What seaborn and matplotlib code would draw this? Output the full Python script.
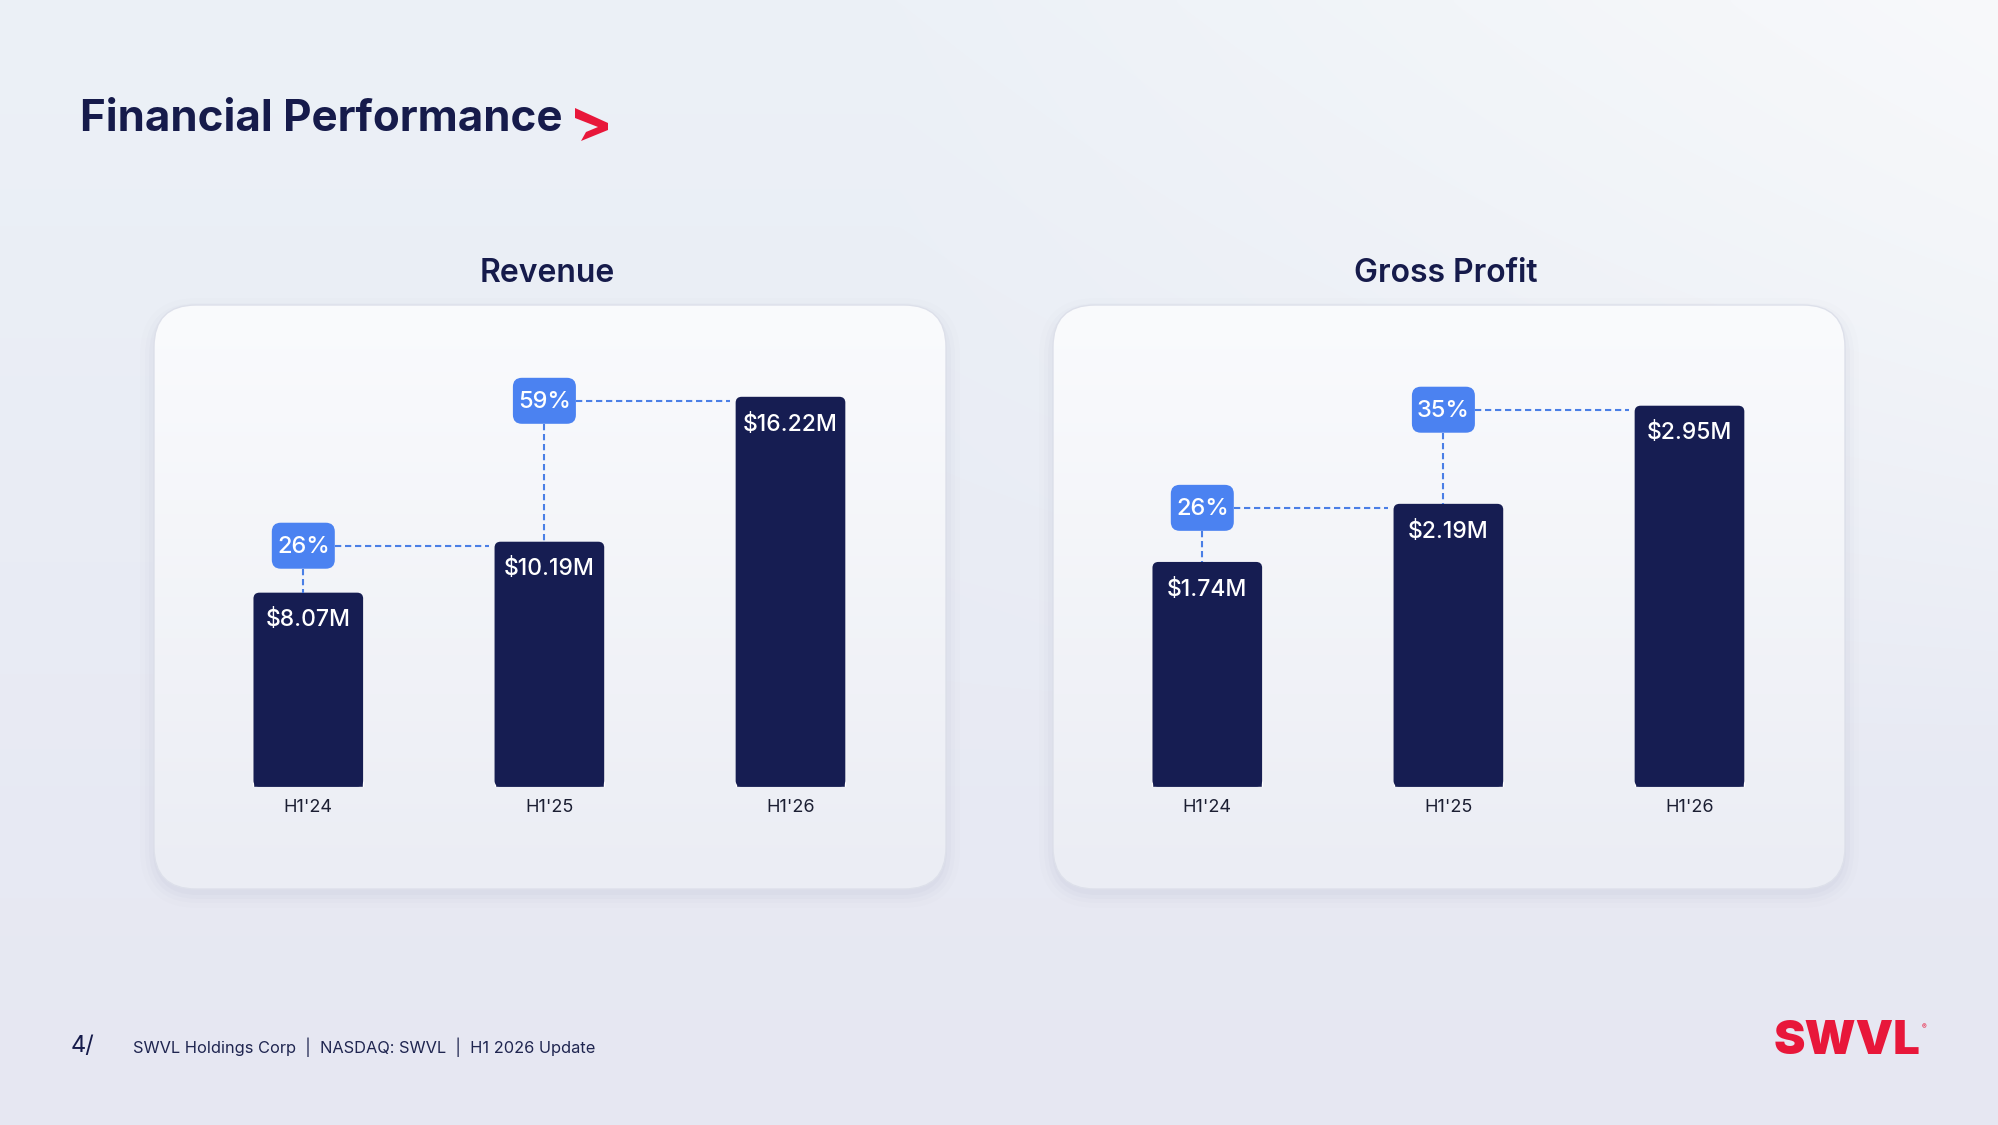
import numpy as np
import matplotlib
matplotlib.use("Agg")
import matplotlib.pyplot as plt
import seaborn as sns
from matplotlib.patches import FancyBboxPatch, Polygon

# ---------------- data ----------------
periods = ["H1'24", "H1'25", "H1'26"]
revenue = [8.07, 10.19, 16.22]
gross_profit = [1.74, 2.19, 2.95]
revenue_labels = ["$8.07M", "$10.19M", "$16.22M"]
gross_profit_labels = ["$1.74M", "$2.19M", "$2.95M"]
revenue_growth = ["26%", "59%"]
gross_profit_growth = ["26%", "35%"]
panel_titles = ["Revenue", "Gross Profit"]
title = "Financial Performance"
footer_page = "4/"
footer_text = "SWVL Holdings Corp  |  NASDAQ: SWVL  |  H1 2026 Update"

# ---------------- style ----------------
sns.set_theme(style="white")
plt.rcParams['font.family'] = ['Inter', 'DejaVu Sans']

NAVY = '#161D52'
TITLE_C = '#161B4B'
BLUE = '#4B82F1'
DASH = '#4A7FE6'
RED = '#E8173A'
TICK_C = '#1C1F33'

W, H = 1999, 1125
fig = plt.figure(figsize=(W / 100, H / 100), dpi=100)

# background (pixel coordinates, y down)
bg = fig.add_axes([0, 0, 1, 1], zorder=0)
yy, xx = np.mgrid[0:1:225j, 0:1:400j]
top_c = np.array([236, 241, 247]) / 255
bot_c = np.array([230, 231, 242]) / 255
img = top_c * (1 - yy[..., None]) + bot_c * yy[..., None]
light = np.array([248, 249, 251]) / 255
wgt = np.clip((xx - 0.45) * 1.8, 0, 1) * np.clip(1 - yy * 1.5, 0, 1)
img = img * (1 - wgt[..., None]) + light * wgt[..., None]
bg.imshow(img, extent=(0, W, H, 0), aspect='auto', zorder=0, interpolation='bicubic')

cards = [(154, 305, 792, 584), (1053, 305, 792, 584)]
RAD = 42
for (x0, y0, w, h) in cards:
    # soft shadow
    for g, a in [(16, 0.016), (11, 0.022), (7, 0.03), (3, 0.04)]:
        sh = FancyBboxPatch((x0 - g + 2, y0 - g + 9), w + 2 * g - 4, h + 2 * g - 6,
                            boxstyle=f"round,pad=0,rounding_size={RAD + g}",
                            fc='#7A82A6', ec='none', alpha=a, zorder=1)
        bg.add_patch(sh)
    clip = FancyBboxPatch((x0, y0), w, h, boxstyle=f"round,pad=0,rounding_size={RAD}",
                          fc='#F4F5F9', ec='none', zorder=2)
    bg.add_patch(clip)
    gy, gx = np.mgrid[0:1:120j, 0:1:160j]
    ctop = np.array([250, 251, 253]) / 255
    cbot = np.array([235, 237, 244]) / 255
    cimg = ctop * (1 - gy[..., None]) + cbot * gy[..., None]
    im = bg.imshow(cimg, extent=(x0, x0 + w, y0 + h, y0), aspect='auto', zorder=3,
                   interpolation='bicubic')
    im.set_clip_path(clip)
    edge = FancyBboxPatch((x0, y0), w, h, boxstyle=f"round,pad=0,rounding_size={RAD}",
                          fc='none', ec='#DDE0EA', lw=1.0, zorder=4)
    bg.add_patch(edge)
bg.set_xlim(0, W)
bg.set_ylim(H, 0)
bg.axis('off')

# overlay axes in pixel coordinates
ov = fig.add_axes([0, 0, 1, 1], zorder=20)
ov.set_xlim(0, W)
ov.set_ylim(H, 0)
ov.axis('off')
ov.patch.set_alpha(0)

BASE = 786.6
BAR_W = 0.455
XLIM = (-0.64, 2.645)

panels = [
    (revenue, revenue_labels, revenue_growth, 20.04),
    (gross_profit, gross_profit_labels, gross_profit_growth, 3.73),
]


def to_px(ax, x, y):
    d = ax.transData.transform((x, y))
    return d[0], H - d[1]


for k, ((x0, y0, w, h), (vals, labels, growth, ytop)) in enumerate(zip(cards, panels)):
    ax = fig.add_axes([x0 / W, (H - BASE) / H, w / W, (BASE - y0) / H], zorder=10)
    ax.patch.set_alpha(0)
    sns.barplot(x=periods, y=vals, ax=ax, color=NAVY, width=BAR_W, saturation=1,
                errorbar=None)
    ax.set_xlim(*XLIM)
    ax.set_ylim(0, ytop)
    ax.set_yticks([])
    ax.set_xlabel('')
    ax.set_ylabel('')
    for s in ax.spines.values():
        s.set_visible(False)
    ax.tick_params(axis='x', length=0, pad=9, labelsize=13, labelcolor=TICK_C)

    # rounded top corners
    ux = (XLIM[1] - XLIM[0]) / w
    uy = ytop / (BASE - y0)
    r = 6
    for p in list(ax.patches):
        bx, bw, bh = p.get_x(), p.get_width(), p.get_height()
        fb = FancyBboxPatch((bx, 0), bw, bh,
                            boxstyle=f"round,pad=0,rounding_size={r * ux}",
                            mutation_aspect=uy / ux, fc=NAVY, ec='none', zorder=3)
        ax.add_patch(fb)
        p.set_height(bh - r * uy)

    # value labels
    for i, (v, lab) in enumerate(zip(vals, labels)):
        ax.annotate(lab, xy=(i, v), xytext=(0, -20), textcoords='offset points',
                    ha='center', va='center', color='white', fontsize=16.5,
                    fontweight='medium', zorder=5)

    # growth badges + connectors
    for i, g in enumerate(growth):
        cx, top_i = to_px(ax, i, vals[i])
        lx, top_n = to_px(ax, i + 1 - BAR_W / 2, vals[i + 1])
        cx -= 5
        cy = top_n + 4
        bw_, bh_ = 63, 46
        ov.plot([cx, cx], [cy + bh_ / 2, top_i], color=DASH, lw=1.5,
                linestyle=(0, (3, 1.8)), zorder=1)
        ov.plot([cx + bw_ / 2, lx - 6], [cy, cy], color=DASH, lw=1.5,
                linestyle=(0, (3, 1.8)), zorder=1)
        ov.add_patch(FancyBboxPatch((cx - bw_ / 2, cy - bh_ / 2), bw_, bh_,
                                    boxstyle="round,pad=0,rounding_size=9",
                                    fc=BLUE, ec='none', zorder=2))
        ov.text(cx, cy + 1, g, ha='center', va='center', color='white',
                fontsize=17, fontweight='medium', zorder=3)

    # panel title
    ov.text(x0 + w / 2 - 3, 274, panel_titles[k], ha='center', va='center',
            fontsize=23, fontweight='semibold', color=TITLE_C)

# main title
ov.text(80, 131, title, ha='left', va='baseline', fontsize=31.6,
        fontweight='bold', color=TITLE_C)
chev = [(575, 108), (608, 123), (608, 130), (581, 141), (586, 132), (598, 127), (575, 118)]
ov.add_patch(Polygon(chev, closed=True, fc=RED, ec='none'))

# footer
ov.text(71, 1046, footer_page, ha='left', va='center', fontsize=17,
        fontweight='normal', color=TITLE_C)
ov.text(133, 1047, footer_text, ha='left', va='center', fontsize=11.8,
        color='#1F2550')

# logo
logo = ov.text(1774, 1054, "SWVL", ha='left', va='baseline', fontsize=34,
               fontweight='black', color=RED)
ov.annotate("®", xy=(1, 1), xycoords=logo, xytext=(0.5, -3), textcoords='offset points',
            ha='left', va='top', fontsize=5, color=RED)

fig.savefig('out.png', dpi=100)
